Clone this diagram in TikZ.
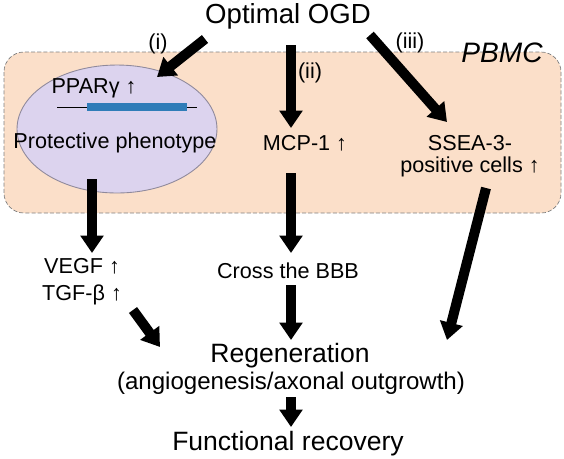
\documentclass[tikz,border=0pt]{standalone}
\usepackage{fontspec}
\setmainfont{Liberation Sans}
\usetikzlibrary{arrows.meta,calc,shapes.geometric}
\definecolor{peach}{HTML}{FBDFC9}
\definecolor{lilac}{HTML}{DCD3EE}
\definecolor{genebar}{HTML}{2F7CB8}
\begin{document}
\begin{tikzpicture}[x=0.02cm,y=-0.02cm,
    small/.style={font=\fontsize{12.3}{14}\selectfont,inner sep=0pt,anchor=base},
    big/.style={font=\fontsize{15.1}{18}\selectfont,inner sep=0pt,anchor=base}]
  \useasboundingbox (0,0) rectangle (564,458);
  \draw[fill=peach,draw=gray,dash pattern=on 2.3pt off 1.2pt,
    rounded corners=0.4cm] (4,52) rectangle (561,213);
  \draw (117,129) node (cell) [ellipse,fill=lilac,draw=lilac!65!black,line width=0.5pt,
    minimum width=4cm,minimum height=2.56cm,inner sep=0pt]{};
  \draw[line width=0.5pt] (57,107) -- (197,107);
  \draw[genebar,line width=0.16cm] (87,107) -- (187,107);
  \draw
    (288,23) node (ogd) [big,font=\fontsize{15.7}{18}\selectfont]{Optimal OGD}
    (502,62) node (pbmc) [big,font=\fontsize{16}{18}\selectfont\itshape]{PBMC}
    (158,49) node (i) [small]{(i)}
    (310,78) node (ii) [small]{(ii)}
    (410,48) node (iii) [small]{(iii)}
    (94,93) node (ppar) [small]{PPARγ ↑}
    (115,148) node (prot) [small]{Protective phenotype}
    (305,150) node (mcp) [small]{MCP-1 ↑}
    (470,150) node (ssea) [small]{SSEA-3-}
    (470,172) node (cells) [small]{positive cells ↑}
    (82,273) node (vegf) [small]{VEGF ↑}
    (82,300) node (tgf) [small]{TGF-β ↑}
    (288,278) node (bbb) [small]{Cross the BBB}
    (290,362) node (regen) [big]{Regeneration}
    (291,389) node (angio) [big,font=\fontsize{13.7}{16}\selectfont]{(angiogenesis/axonal outgrowth)}
    (288,450) node (func) [big]{Functional recovery};
  \begin{scope}[line width=0.2cm,-{Triangle[width=0.45cm,length=0.35cm]}]
    \draw ($(ogd.base)+(-83,16)$) to ($(cell)+(40,-52)$);
    \draw ($(ogd.base)+(3,22)$) to ($(mcp.base)+(-14,-22)$);
    \draw ($(ogd.base)+(82,12)$) to ($(ssea.base)+(-23,-28)$);
    \draw ($(cell)+(-25,50)$) to ($(vegf.base)+(10,-20)$);
    \draw ($(mcp.base)+(-14,23)$) to ($(bbb.base)+(3,-25)$);
    \draw ($(bbb.base)+(3,7)$) to ($(regen.base)+(1,-22)$);
    \draw ($(tgf.base)+(51,10)$) to ($(regen.base)+(-130,-15)$);
    \draw ($(cells.base)+(16,16)$) to ($(regen.base)+(157,-22)$);
    \draw ($(angio.base)+(0,8)$) to ($(func.base)+(3,-23)$);
  \end{scope}
\end{tikzpicture}
\end{document}
